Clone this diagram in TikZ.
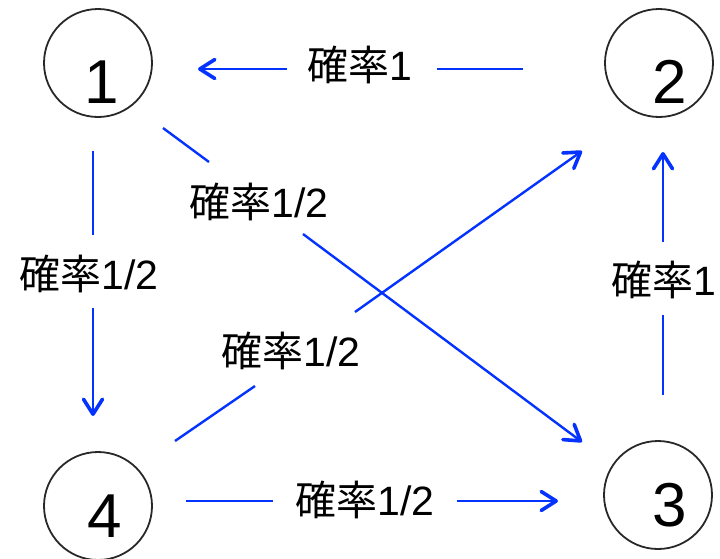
\documentclass[tikz,border=0pt]{standalone}
\usepackage{fontspec}
\setmainfont{Liberation Sans}
\newfontfamily\cjk{Noto Sans CJK JP}
\usetikzlibrary{arrows.meta}
\definecolor{edgeblue}{RGB}{4,51,255}
\definecolor{ringgray}{RGB}{40,40,40}
\begin{document}
\begin{tikzpicture}[x=1pt,y=-1pt,
  state/.style={circle,draw=ringgray,line width=1.8pt,minimum size=108pt,inner sep=0pt},
  num/.style={font=\fontsize{62}{62}\selectfont,inner sep=0pt},
  prob/.style={font=\fontsize{41}{41}\selectfont,inner sep=0pt},
  edge/.style={draw=edgeblue,line width=2.4pt},
  tip/.style={-{Straight Barb[length=15pt,width=19pt,line width=3.6pt,round]}}
]
\useasboundingbox (0,0) rectangle (720,558);

% states
\node[state] (n1) at (98,63) {};
\node[state] (n2) at (659,63) {};
\node[state] (n3) at (658,495) {};
\node[state] (n4) at (98,506) {};
\node[num] (t1) at (102,82) {1};
\node[num] (t2) at (670,82) {2};
\node[num] (t3) at (670,505) {3};
\node[num] (t4) at (105,516) {4};

% labels
\node[prob] (l21) at (360,65) {{\cjk 確率}1};
\node[prob] (l14) at (89,274) {{\cjk 確率}1/2};
\node[prob] (l13) at (259,202) {{\cjk 確率}1/2};
\node[prob] (l42) at (291,351) {{\cjk 確率}1/2};
\node[prob] (l43) at (365,500) {{\cjk 確率}1/2};
\node[prob] (l32) at (664,280) {{\cjk 確率}1};

% connector points
\coordinate (s21) at (523,69);  \coordinate (a21) at (437,69);
\coordinate (b21) at (287,69);  \coordinate (e21) at (198,69);
\coordinate (s14) at (93,151);  \coordinate (a14) at (93,235);
\coordinate (b14) at (93,308);  \coordinate (e14) at (93,416);
\coordinate (s13) at (163,128); \coordinate (a13) at (209,162);
\coordinate (b13) at (303,234); \coordinate (e13) at (582,442);
\coordinate (s42) at (175,441); \coordinate (a42) at (255,386);
\coordinate (b42) at (355,312); \coordinate (e42) at (582,151);
\coordinate (s43) at (186,501); \coordinate (a43) at (273,501);
\coordinate (b43) at (457,501); \coordinate (e43) at (558,501);
\coordinate (s32) at (663,395); \coordinate (a32) at (663,315);
\coordinate (b32) at (663,242); \coordinate (e32) at (663,152);

% connectors
\draw[edge,tip] (s21) -- (a21) (b21) -- (e21);
\draw[edge,tip] (s14) -- (a14) (b14) -- (e14);
\draw[edge,tip] (s13) -- (a13) (b13) -- (e13);
\draw[edge,tip] (s42) -- (a42) (b42) -- (e42);
\draw[edge,tip] (s43) -- (a43) (b43) -- (e43);
\draw[edge,tip] (s32) -- (a32) (b32) -- (e32);
\end{tikzpicture}
\end{document}
